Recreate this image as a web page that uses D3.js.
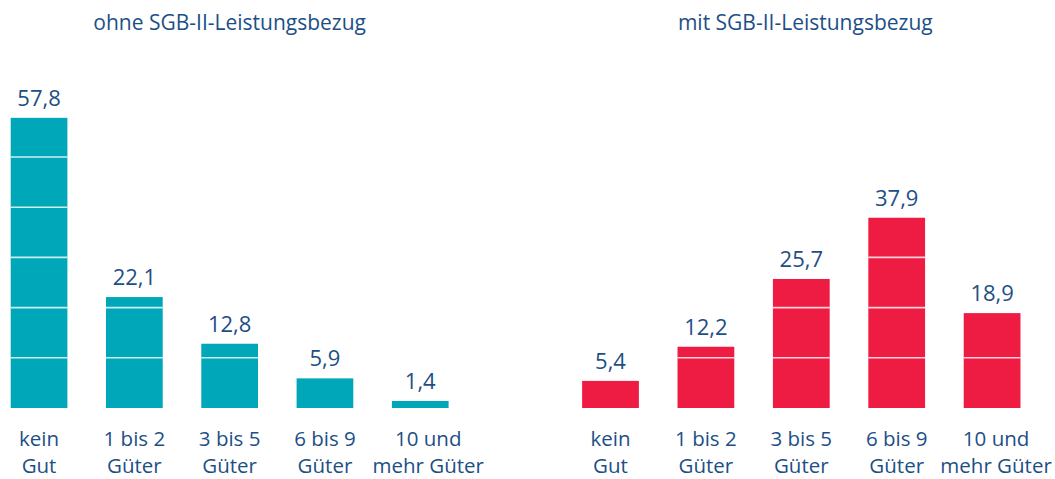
<!DOCTYPE html>
<html>
<head>
<meta charset="utf-8">
<script src="https://cdn.jsdelivr.net/npm/d3@7"></script>
<style>
  body { margin: 0; background: #fff; }
  svg text { font-family: "Open Sans", sans-serif; fill: #1d4f86; }
</style>
</head>
<body>
<div id="chart"></div>
<script>
// categories (two-line labels)
var categories = ["kein Gut", "1 bis 2 Güter", "3 bis 5 Güter", "6 bis 9 Güter", "10 und mehr Güter"];
var catLines = [["kein", "Gut"], ["1 bis 2", "Güter"], ["3 bis 5", "Güter"], ["6 bis 9", "Güter"], ["10 und", "mehr Güter"]];

// series values (percent)
var ohneValues = [57.8, 22.1, 12.8, 5.9, 1.4];
var mitValues = [5.4, 12.2, 25.7, 37.9, 18.9];

var titles = ["ohne SGB-II-Leistungsbezug", "mit SGB-II-Leistungsbezug"];
var gridTicks = [10, 20, 30, 40, 50];

var width = 1055, height = 479;

var svg = d3.select("#chart").append("svg")
    .attr("width", width)
    .attr("height", height);

// shared y scale
var y = d3.scaleLinear()
    .domain([0, 60])
    .range([408, 106.8]);

//panels
var panels = [
  {title: titles[0], values: ohneValues, color: "#00a7b9", range: [-8.6, 467.9], lastShift: 8},
  {title: titles[1], values: mitValues, color: "#ee1b43", range: [562.8, 1039.8], lastShift: 4}
];

panels.forEach(function(p, pi) {
  var x = d3.scaleBand()
      .domain(categories)
      .range(p.range)
      .paddingInner(0.405)
      .paddingOuter(0.2025);

  var g = svg.append("g");
  var data = categories.map(function(c, i) { return {cat: c, value: p.values[i], lines: catLines[i]}; });

  // title centered over middle bar
  g.append("text")
      .attr("x", x(categories[2]) + x.bandwidth() / 2 + (pi == 1 ? 4 : 0))
      .attr("y", 30)
      .attr("text-anchor", "middle")
      .style("font-size", "21px")
      .text(p.title);

  // bars
  g.selectAll(".bar")
      .data(data)
      .enter().append("rect")
      .attr("class", "bar")
      .attr("x", function(d) { return x(d.cat); })
      .attr("width", x.bandwidth())
      .attr("y", function(d) { return y(d.value); })
      .attr("height", function(d) { return y(0) - y(d.value); })
      .style("fill", p.color);

  // white lines inside the bars
  data.forEach(function(d) {
    g.selectAll(null)
        .data(gridTicks.filter(function(t) { return t < d.value; }))
        .enter().append("line")
        .attr("x1", x(d.cat))
        .attr("x2", x(d.cat) + x.bandwidth())
        .attr("y1", function(t) { return y(t); })
        .attr("y2", function(t) { return y(t); })
        .style("stroke", "#fff")
        .style("stroke-opacity", 0.8)
        .style("stroke-width", 1.6);
  });

  // value labels
  g.selectAll(".val")
      .data(data)
      .enter().append("text")
      .attr("class", "val")
      .attr("x", function(d) { return x(d.cat) + x.bandwidth() / 2; })
      .attr("y", function(d) { return y(d.value) - 12; })
      .attr("text-anchor", "middle")
      .style("font-size", "22px")
      .text(function(d) { return d3.format(".1f")(d.value).replace(".", ","); });

  // category labels
  var lab = g.selectAll(".cat")
      .data(data)
      .enter().append("text")
      .attr("class", "cat")
      .attr("text-anchor", "middle")
      .style("font-size", "20.5px");
  lab.each(function(d, i) {
    var cx = x(d.cat) + x.bandwidth() / 2 + (i == 4 ? p.lastShift : 0);
    d3.select(this).selectAll("tspan")
        .data(d.lines)
        .enter().append("tspan")
        .attr("x", cx)
        .attr("y", function(l, j) { return 446 + j * 27; })
        .text(function(l) { return l; });
  });
});
</script>
</body>
</html>
